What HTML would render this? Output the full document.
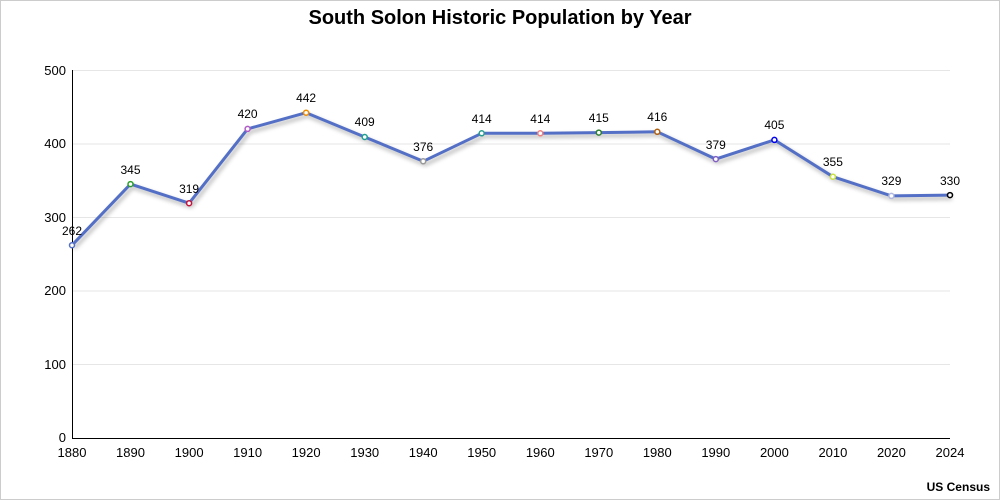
<!DOCTYPE html><html><head><style>body{margin:0;background:#fff}svg{display:block}text{font-family:"Liberation Sans",sans-serif}</style></head><body>
<svg width="1000" height="500" viewBox="0 0 1000 500">
<defs><filter id="b" x="-5%" y="-20%" width="110%" height="140%"><feGaussianBlur stdDeviation="2"/></filter></defs>
<rect x="0.5" y="0.5" width="999" height="499" fill="#fff" stroke="#ccc"/>
<text x="500" y="24" text-anchor="middle" font-size="20" font-weight="bold">South Solon Historic Population by Year</text>
<g stroke="#e6e6e6" stroke-width="1">
<line x1="72" y1="70.5" x2="950" y2="70.5"/><line x1="72" y1="144" x2="950" y2="144"/><line x1="72" y1="217.5" x2="950" y2="217.5"/><line x1="72" y1="291" x2="950" y2="291"/><line x1="72" y1="364.5" x2="950" y2="364.5"/></g>
<line x1="72.5" y1="70" x2="72.5" y2="438.5" stroke="#000"/><line x1="72" y1="438.5" x2="950" y2="438.5" stroke="#000"/>
<g font-size="13" text-anchor="end"><text x="66" y="75">500</text><text x="66" y="148">400</text><text x="66" y="222">300</text><text x="66" y="295">200</text><text x="66" y="369">100</text><text x="66" y="442">0</text></g>
<g font-size="13" text-anchor="middle">
<text x="72" y="457">1880</text><text x="130.5" y="457">1890</text><text x="189.1" y="457">1900</text><text x="247.6" y="457">1910</text><text x="306.1" y="457">1920</text><text x="364.7" y="457">1930</text><text x="423.2" y="457">1940</text><text x="481.7" y="457">1950</text><text x="540.3" y="457">1960</text><text x="598.8" y="457">1970</text><text x="657.3" y="457">1980</text><text x="715.8" y="457">1990</text><text x="774.4" y="457">2000</text><text x="832.9" y="457">2010</text><text x="891.4" y="457">2020</text><text x="950" y="457">2024</text></g>
<polyline fill="none" stroke="#000" stroke-opacity="0.3" stroke-width="3" filter="url(#b)" transform="translate(2,3)" points="72,245.2 130.5,184.1 189.1,203.2 247.6,128.9 306.1,112.7 364.7,137 423.2,161.3 481.7,133.3 540.3,133.3 598.8,132.6 657.3,131.8 715.8,159.1 774.4,139.9 832.9,176.7 891.4,195.9 950,195.1"/>
<polyline fill="none" stroke="#5470c6" stroke-width="3" stroke-linejoin="round" points="72,245.2 130.5,184.1 189.1,203.2 247.6,128.9 306.1,112.7 364.7,137 423.2,161.3 481.7,133.3 540.3,133.3 598.8,132.6 657.3,131.8 715.8,159.1 774.4,139.9 832.9,176.7 891.4,195.9 950,195.1"/>
<g fill="#fff" stroke-width="1.5">
<circle cx="72" cy="245.2" r="2.5" stroke="#5470c6"/><circle cx="130.5" cy="184.1" r="2.5" stroke="#2ca02c"/><circle cx="189.1" cy="203.2" r="2.5" stroke="#c0143c"/><circle cx="247.6" cy="128.9" r="2.5" stroke="#b05cc6"/><circle cx="306.1" cy="112.7" r="2.5" stroke="#f08c00"/><circle cx="364.7" cy="137" r="2.5" stroke="#20a090"/><circle cx="423.2" cy="161.3" r="2.5" stroke="#999"/><circle cx="481.7" cy="133.3" r="2.5" stroke="#2a9d8f"/><circle cx="540.3" cy="133.3" r="2.5" stroke="#f08080"/><circle cx="598.8" cy="132.6" r="2.5" stroke="#2e7d32"/><circle cx="657.3" cy="131.8" r="2.5" stroke="#b06010"/><circle cx="715.8" cy="159.1" r="2.5" stroke="#8060c0"/><circle cx="774.4" cy="139.9" r="2.5" stroke="#0000ee"/><circle cx="832.9" cy="176.7" r="2.5" stroke="#c8e040"/><circle cx="891.4" cy="195.9" r="2.5" stroke="#b0b8e0"/><circle cx="950" cy="195.1" r="2.5" stroke="#000"/></g>
<g font-size="12" text-anchor="middle">
<text x="72" y="235">262</text><text x="130.5" y="174">345</text><text x="189.1" y="193">319</text><text x="247.6" y="118">420</text><text x="306.1" y="102">442</text><text x="364.7" y="126">409</text><text x="423.2" y="151">376</text><text x="481.7" y="123">414</text><text x="540.3" y="123">414</text><text x="598.8" y="122">415</text><text x="657.3" y="121">416</text><text x="715.8" y="149">379</text><text x="774.4" y="129">405</text><text x="832.9" y="166">355</text><text x="891.4" y="185">329</text><text x="950" y="185">330</text></g>
<text x="990" y="491" text-anchor="end" font-size="12" font-weight="bold">US Census</text>
</svg></body></html>
